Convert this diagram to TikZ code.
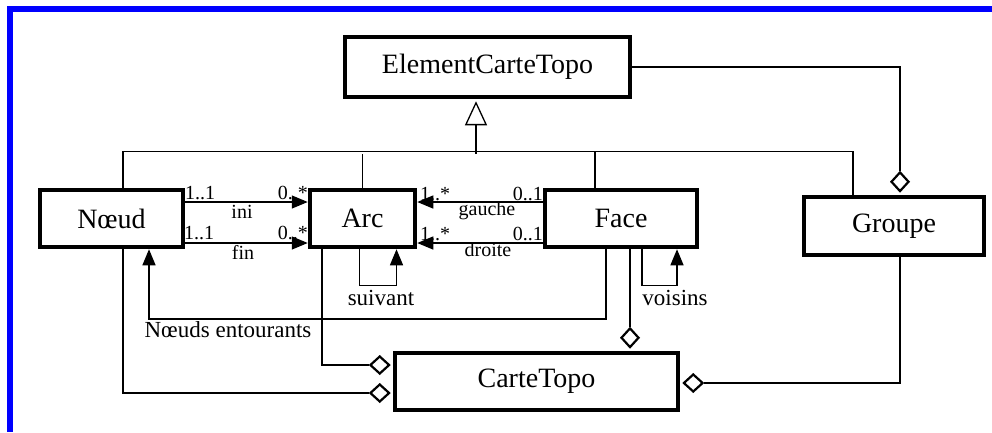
\documentclass[tikz,border=0pt]{standalone}
\usepackage{fontspec}
\setmainfont{Liberation Serif}
\usetikzlibrary{arrows.meta}
\begin{document}
\begin{tikzpicture}[x=1pt,y=-1pt,
  cls/.style={draw, line width=4.5pt, inner sep=0pt, font=\fontsize{28}{30}\selectfont},
  ln/.style={line width=1.3pt},
  nav/.style={ln, -{Triangle[length=16pt,width=13pt]}},
  agg/.style={ln, shorten >=2pt, -{Diamond[open,length=22pt,width=20pt,line width=2.2pt]}},
  inh/.style={ln, shorten >=2pt, -{Triangle[open,length=24pt,width=22pt,line width=1.3pt]}},
  sm/.style={font=\fontsize{20}{22}\selectfont, inner sep=0pt},
  md/.style={font=\fontsize{23}{25}\selectfont, inner sep=0pt}]
\useasboundingbox (0,0) rectangle (992,432);
\fill[white] (0,0) rectangle (992,432);
\fill[blue] (7,6) rectangle (992,12);
\fill[blue] (7,6) rectangle (13,432);

% classes
\node[cls, minimum width=285pt, minimum height=60pt] (ect) at (487.5,67) {ElementCarteTopo};
\node[cls, minimum width=143pt, minimum height=57pt] (noeud) at (111.5,218.5) {Nœud};
\node[cls, minimum width=105pt, minimum height=57pt] (arc) at (362.5,218.5) {Arc};
\node[cls, minimum width=152pt, minimum height=57pt] (face) at (621,218.5) {Face};
\node[cls, minimum width=180pt, minimum height=58pt] (groupe) at (894,226) {Groupe};
\node[cls, minimum width=283pt, minimum height=57pt] (carte) at (536.5,381.5) {CarteTopo};

% inheritance
\coordinate (hub) at (476,154);
\draw[inh] (hub) -- (hub |- ect.south);
\draw[ln] ([xshift=11.5pt]noeud.north) -- ++(0,-36) -| ([xshift=-41pt]groupe.north);
\draw[ln] (arc.north) -- (arc.north |- hub);
\draw[ln] ([xshift=-26pt]face.north) -- ++(0,-36);

% associations Noeud - Arc
\coordinate (yup) at (0,202);
\coordinate (ydn) at (0,243);
\draw[nav] (noeud.east |- yup) -- (arc.west |- yup);
\draw[nav] (noeud.east |- ydn) -- (arc.west |- ydn);
\node[sm, anchor=base west] at (185,199) {1..1};
\node[sm, anchor=base east] at (308,199) {0..*};
\node[sm, anchor=base] at (242,218) {ini};
\node[sm, anchor=base west] at (184,239) {1..1};
\node[sm, anchor=base east] at (308,239) {0..*};
\node[sm, anchor=base] at (243,259) {fin};

% associations Face - Arc
\draw[nav] (face.west |- yup) -- (arc.east |- yup);
\draw[nav] (face.west |- ydn) -- (arc.east |- ydn);
\node[sm, anchor=base west] at (420,200) {1..*};
\node[sm, anchor=base east] at (543,200) {0..1};
\node[sm, anchor=base] at (487,215) {gauche};
\node[sm, anchor=base west] at (420,240) {1..*};
\node[sm, anchor=base east] at (543,240) {0..1};
\node[sm, anchor=base] at (488,256) {droite};

% self loops
\draw[nav] ([xshift=-3pt]arc.south) -- ++(0,36) -| ([xshift=34pt]arc.south);
\node[md, anchor=base] at (381,305) {suivant};
\draw[nav] ([xshift=21pt]face.south) -- ++(0,36) -| ([xshift=56pt]face.south);
\node[md, anchor=base] at (675,305) {voisins};

% Noeuds entourants
\coordinate (ne) at (149,319);
\draw[nav] ([xshift=-15pt]face.south) |- (ne) -- (ne |- noeud.south);
\node[md, anchor=base] at (228,337) {Nœuds entourants};

% aggregations
\draw[agg] ([xshift=9pt]face.south) -- ([xshift=9pt]face.south |- carte.north);
\draw[agg] ([xshift=-40.5pt]arc.south) |- ([yshift=16.5pt]carte.west);
\draw[agg] ([xshift=11.5pt]noeud.south) |- ([yshift=-11.5pt]carte.west);
\draw[agg] ([xshift=6pt]groupe.south) |- ([yshift=-1.5pt]carte.east);
\draw[agg] (ect.east) -| ([xshift=6pt]groupe.north);
\end{tikzpicture}
\end{document}
